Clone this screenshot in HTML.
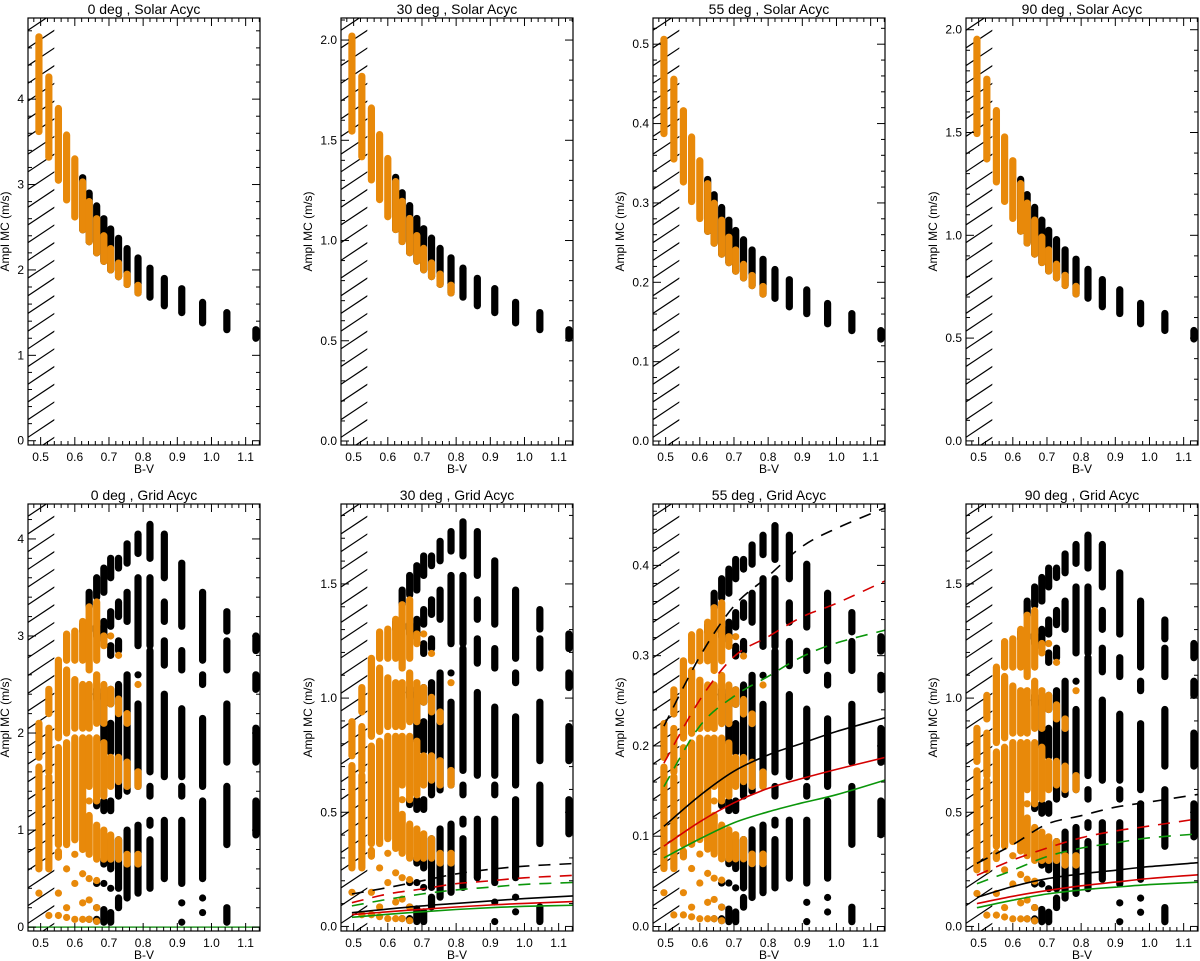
<!DOCTYPE html>
<html><head><meta charset="utf-8"><style>
html,body{margin:0;padding:0;background:#fff;}
svg{display:block;font-family:"Liberation Sans",Arial,sans-serif;}
</style></head><body>
<svg id="chart" width="1200" height="961" viewBox="0 0 1200 961" xmlns="http://www.w3.org/2000/svg"></svg>
<script>
// ---- data ----
const bvCols = [0.495,0.524,0.552,0.576,0.600,0.623,0.642,0.664,0.685,0.705,0.728,0.753,0.785,0.820,0.862,0.913,0.974,1.045,1.130];
// Solar row (0 deg reference values, m/s)
const solarBlackHi = [null,null,null,null,null,3.08,2.9,2.75,2.6,2.48,2.37,2.25,2.14,2.02,1.9,1.78,1.62,1.5,1.3];
const solarBlackLo = [null,null,null,null,null,2.47,2.33,2.2,2.1,2.0,1.92,1.83,1.73,1.68,1.58,1.5,1.38,1.3,1.2];
const solarOrangeHi = [4.73,4.26,3.89,3.58,3.30,3.03,2.8,2.6,2.4,2.25,2.08,1.95,1.82,null,null,null,null,null,null];
const solarOrangeLo = [3.62,3.32,3.05,2.82,2.62,2.47,2.33,2.2,2.1,2.0,1.92,1.83,1.73,null,null,null,null,null,null];
// Grid row (0 deg reference), segments [lo,hi] per column
const gridBlack = [
 [],[],[],[],[],
 [[3.05,3.12]],
 [[0.08,0.08],[2.4,2.4],[3.05,3.1],[3.3,3.45]],
 [[0.06,0.08],[0.2,0.2],[0.45,0.45],[1.25,1.3],[2.35,2.45],[3.0,3.1],[3.4,3.6]],
 [[0.05,0.18],[0.45,0.45],[0.65,0.7],[1.2,1.3],[1.9,2.4],[2.95,3.15],[3.45,3.7]],
 [[0.05,0.15],[0.4,0.4],[0.6,0.9],[1.2,1.3],[1.8,2.1],[2.3,2.45],[2.8,2.9],[3.1,3.25],[3.6,3.8]],
 [[0.2,0.3],[0.4,0.9],[1.35,2.5],[2.85,2.95],[3.2,3.35],[3.7,3.8]],
 [[0.3,1.0],[1.4,2.6],[3.15,3.45],[3.75,3.95]],
 [[0.35,1.05],[1.45,2.3],[2.6,2.6],[2.9,3.6],[3.85,4.05]],
 [[0.4,0.9],[1.05,1.1],[1.35,1.45],[1.6,2.85],[2.9,3.6],[3.8,4.15]],
 [[0.5,1.1],[1.55,2.4],[2.7,2.95],[3.15,3.35],[3.6,4.05]],
 [[0.05,0.05],[0.25,0.25],[0.45,1.1],[1.35,1.45],[1.55,2.25],[2.65,2.85],[3.1,3.75]],
 [[0.15,0.15],[0.3,0.3],[0.5,1.3],[1.45,2.15],[2.5,2.6],[2.75,3.45]],
 [[0.05,0.2],[0.85,1.45],[1.7,2.3],[2.65,2.95],[3.05,3.25]],
 [[0.95,1.3],[1.7,2.05],[2.45,2.6],[2.85,3.0]]
];
const gridOrange = [
 [[0.35,0.35],[0.6,1.65],[1.75,2.1]],
 [[0.12,0.12],[0.6,1.55],[1.6,2.05],[2.2,2.45]],
 [[0.12,0.12],[0.35,0.35],[0.72,0.78],[0.85,1.85],[1.95,2.75]],
 [[0.1,0.1],[0.2,0.2],[0.6,0.6],[0.85,1.9],[2.0,2.65],[2.75,3.02]],
 [[0.08,0.08],[0.45,0.45],[0.75,0.75],[0.9,1.95],[2.05,2.55],[2.75,3.05]],
 [[0.08,0.08],[0.25,0.25],[0.55,0.55],[0.8,1.95],[2.05,2.5],[2.75,3.15]],
 [[0.08,0.08],[0.28,0.28],[0.5,0.5],[0.75,1.15],[1.3,1.3],[1.45,1.95],[2.05,2.5],[2.65,3.3]],
 [[0.06,0.06],[0.2,0.2],[0.48,0.48],[0.7,1.05],[1.3,1.95],[2.1,2.6],[2.75,3.35]],
 [[0.7,1.0],[1.35,1.9],[2.1,2.5],[2.9,3.0]],
 [[0.7,0.95],[1.45,1.75],[2.3,2.45],[3.0,3.0]],
 [[0.7,0.9],[1.5,1.75],[2.2,2.35],[2.8,2.8]],
 [[0.65,0.75],[1.45,1.7],[2.1,2.2]],
 [[0.65,0.75],[1.45,1.6],[2.5,2.5]],
 [],[],[],[],[],[]
];
const panelScale = [1, 0.427, 0.107, 0.413];
const angles = ["0","30","55","90"];
// curves (bottom row)
const curveBV = [0.495,0.6,0.7,0.8,0.9,1.0,1.15];
const curves30 = {
 solidBlack:[0.06,0.076,0.09,0.101,0.112,0.122,0.134], solidRed:[0.052,0.064,0.075,0.085,0.094,0.101,0.109], solidGreen:[0.04,0.053,0.064,0.074,0.082,0.088,0.093],
 dashBlack:[0.142,0.17,0.2,0.23,0.25,0.264,0.276], dashRed:[0.104,0.142,0.164,0.187,0.2,0.213,0.224], dashGreen:[0.09,0.119,0.142,0.16,0.172,0.184,0.193]};
const curves55 = {
 solidBlack:[0.111,0.145,0.172,0.19,0.203,0.216,0.232], solidRed:[0.089,0.116,0.137,0.153,0.164,0.174,0.188], solidGreen:[0.076,0.097,0.115,0.127,0.137,0.146,0.163],
 dashBlack:[0.222,0.299,0.355,0.388,0.421,0.441,0.465], dashRed:[0.181,0.251,0.299,0.321,0.343,0.358,0.384], dashGreen:[0.155,0.222,0.255,0.277,0.299,0.314,0.329]};
const curves90 = {
 solidBlack:[0.127,0.175,0.209,0.23,0.246,0.262,0.28], solidRed:[0.1,0.132,0.157,0.178,0.194,0.21,0.227], solidGreen:[0.082,0.115,0.142,0.16,0.172,0.183,0.194],
 dashBlack:[0.276,0.358,0.448,0.485,0.522,0.545,0.58], dashRed:[0.224,0.291,0.343,0.388,0.418,0.44,0.473], dashGreen:[0.187,0.246,0.306,0.343,0.366,0.388,0.406]};
const xTicks = [0.5,0.6,0.7,0.8,0.9,1.0,1.1];
const xTickLabels = ["0.5","0.6","0.7","0.8","0.9","1.0","1.1"];
const topYRange = [[-0.05,4.95],[-0.02,2.11],[-0.005,0.533],[-0.02,2.057]];
const botYRange = [[-0.04,4.36],[-0.02,1.85],[-0.005,0.468],[-0.02,1.85]];
const topYTicks = [[0,1,2,3,4],[0,0.5,1,1.5,2],[0,0.1,0.2,0.3,0.4,0.5],[0,0.5,1,1.5,2]];
const botYTicks = [[0,1,2,3,4],[0,0.5,1,1.5],[0,0.1,0.2,0.3,0.4],[0,0.5,1,1.5]];
const yStep = [1,0.5,0.1,0.5];
const yDec = [0,1,1,1];

// ---- drawing ----
const NS="http://www.w3.org/2000/svg";
const svg=document.getElementById('chart');
function el(tag,attrs,parent){const e=document.createElementNS(NS,tag);for(const k in attrs)e.setAttribute(k,attrs[k]);(parent||svg).appendChild(e);return e;}
const lefts=[28,341,653,966], W=232, XMIN=0.463, XMAX=1.142;
const ORANGE="#e8890a";

function smoothPath(pts){
  let d='M'+pts[0][0].toFixed(1)+','+pts[0][1].toFixed(1);
  for(let i=0;i<pts.length-1;i++){
    const p0=pts[i-1]||pts[i],p1=pts[i],p2=pts[i+1],p3=pts[i+2]||p2;
    const c1x=p1[0]+(p2[0]-p0[0])/6,c1y=p1[1]+(p2[1]-p0[1])/6,c2x=p2[0]-(p3[0]-p1[0])/6,c2y=p2[1]-(p3[1]-p1[1])/6;
    d+=' C'+c1x.toFixed(1)+','+c1y.toFixed(1)+' '+c2x.toFixed(1)+','+c2y.toFixed(1)+' '+p2[0].toFixed(1)+','+p2[1].toFixed(1);
  }
  return d;
}

function panel(ci,row){
  const L=lefts[ci], T=row===0?18:504, B=row===0?445:931, H=B-T;
  const yr=row===0?topYRange[ci]:botYRange[ci];
  const xs=v=>L+(v-XMIN)/(XMAX-XMIN)*W;
  const ys=v=>B-(v-yr[0])/(yr[1]-yr[0])*H;
  const g=el('g',{});
  
  
  const cid='clip'+row+ci;
  const cp=el('clipPath',{id:cid},g); el('rect',{x:L,y:T,width:W,height:H},cp);
  const hg=el('g',{'clip-path':'url(#'+cid+')'},g);
  
  
  const hx2=xs(0.54);
  const hcp=el('clipPath',{id:cid+'h'},g); el('rect',{x:L,y:T,width:hx2-L,height:H},hcp);
  const hl=el('g',{'clip-path':'url(#'+cid+'h)'},hg);
  for(let y0=B+10;y0>T-20;y0-=17.7){el('line',{x1:L,y1:y0,x2:L+27,y2:y0-18,stroke:'#000','stroke-width':1.2},hl);}
  const dg=el('g',{'clip-path':'url(#'+cid+')'},g);
  const s=panelScale[ci];
  function cap(x,lo,hi,color,name){
    const r=el('rect',{x:x-3.6,y:ys(hi*s)-3.6,width:7.2,height:ys(lo*s)-ys(hi*s)+7.2,rx:3.6,fill:color},dg);
    
    
  }
  if(row===0){
    bvCols.forEach((bv,i)=>{ if(solarBlackHi[i]!==null) cap(xs(bv),solarBlackLo[i],solarBlackHi[i],'#000','solar-black-points'); });
    bvCols.forEach((bv,i)=>{ if(solarOrangeHi[i]!==null) cap(xs(bv),solarOrangeLo[i],solarOrangeHi[i],ORANGE,'solar-orange-points'); });
  } else {
    bvCols.forEach((bv,i)=>{ gridBlack[i].forEach(sg=>cap(xs(bv),sg[0],sg[1],'#000','grid-black-points')); });
    bvCols.forEach((bv,i)=>{ gridOrange[i].forEach(sg=>cap(xs(bv),sg[0],sg[1],ORANGE,'grid-orange-points')); });
    const cv=[null,curves30,curves55,curves90][ci];
    if(ci===0){ const z=el('line',{x1:L,x2:L+W,y1:ys(0),y2:ys(0),stroke:'#2a9a2a','stroke-width':1.5},dg);
        }
    if(cv){
      const defs=[['solidBlack','#000',''],['solidRed','#d40000',''],['solidGreen','#0a960a',''],['dashBlack','#000','12 9'],['dashRed','#d40000','12 9'],['dashGreen','#0a960a','12 9']];
      defs.forEach(d=>{
        const pts=curveBV.map((b,i)=>[xs(b),ys(cv[d[0]][i])]);
        const p=el('path',{d:smoothPath(pts),fill:'none',stroke:d[1],'stroke-width':1.6,'stroke-dasharray':d[2]||'none'},dg);
        
        
      });
    }
  }
  el('rect',{x:L,y:T,width:W,height:H,fill:'none',stroke:'#000','stroke-width':1.2},g);
  for(let v=0.48;v<=1.1401;v+=0.02){
    const x=xs(v), major=Math.abs(v*10-Math.round(v*10))<0.01;
    const len=major?8:4;
    el('line',{x1:x,x2:x,y1:B,y2:B-len,stroke:'#000','stroke-width':1},g);
    el('line',{x1:x,x2:x,y1:T,y2:T+len,stroke:'#000','stroke-width':1},g);
  }
  xTicks.forEach((v,i)=>{const t=el('text',{x:xs(v),y:B+16,'font-size':12,'text-anchor':'middle',fill:'#000'},g);t.textContent=xTickLabels[i];
     });
  const st=yStep[ci]/5;
  for(let k=Math.ceil(yr[0]/st);k*st<=yr[1];k++){
    const v=k*st, y=ys(v), major=k%5===0, len=major?8:4;
    el('line',{x1:L,x2:L+len,y1:y,y2:y,stroke:'#000','stroke-width':1},g);
    el('line',{x1:L+W,x2:L+W-len,y1:y,y2:y,stroke:'#000','stroke-width':1},g);
  }
  (row===0?topYTicks:botYTicks)[ci].forEach(v=>{const t=el('text',{x:L-4,y:ys(v)+4,'font-size':12,'text-anchor':'end',fill:'#000'},g);t.textContent=v.toFixed(yDec[ci]);
     });
  const xl=el('text',{x:L+W/2,y:B+28,'font-size':12,'text-anchor':'middle'},g); xl.textContent='B-V';
   
  const yoff=yDec[ci]===0?19:29;
  const yl=el('text',{x:0,y:0,'font-size':12,'text-anchor':'middle',transform:'translate('+(L-yoff)+','+((T+B)/2)+') rotate(-90)'},g); yl.textContent='Ampl  MC (m/s)';
   
  const ti=el('text',{x:L+W/2,y:T-4,'font-size':14,'text-anchor':'middle'},g); ti.textContent=angles[ci]+' deg , '+(row===0?'Solar':'Grid')+' Acyc';
   
}
for(let r=0;r<2;r++)for(let c=0;c<4;c++)panel(c,r);
</script>
</body></html>
